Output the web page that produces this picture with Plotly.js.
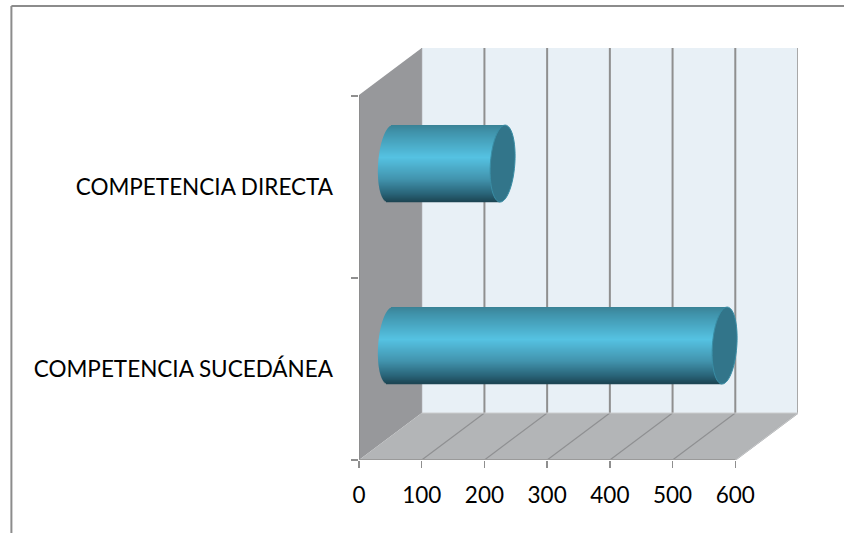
<!DOCTYPE html>
<html>
<head>
<meta charset="utf-8">
<script src="https://cdn.plot.ly/plotly-3.0.1.min.js"></script>
<style>html,body{margin:0;padding:0;background:#fff}#chart{width:844px;height:533px}</style>
</head>
<body>
<div id="chart"></div>
<script>
// Competition by type: a horizontal cylinder chart on a simulated 3D box.
const categories = ['COMPETENCIA SUCEDÁNEA', 'COMPETENCIA DIRECTA'];
const values = [533, 179];
const xTicks = [0, 100, 200, 300, 400, 500, 600];
const categoryEdges = [-0.5, 0.5, 1.5];

// Box depth expressed in axis units
const depthX = 100, depthY = 0.258;
const xMax = 700, yMin = -0.5, yMax = 1.764;
const xFront = xTicks[xTicks.length - 1];
// Cylinder proportions in axis units; skewX leans the round ends with the view
const radiusY = 0.2115, radiusX = 19.5, skewX = 4;

// Vertical shading across a cylinder, from its top edge to its bottom edge
const shadeStops = [
  [0.00, [58, 130, 150]], [0.10, [64, 148, 172]], [0.42, [85, 194, 226]],
  [0.70, [66, 148, 174]], [0.90, [40, 98, 118]], [1.00, [28, 68, 82]]
];
function shade(t) {
  for (let i = 1; i < shadeStops.length; i++) {
    if (t <= shadeStops[i][0]) {
      const [a, ca] = shadeStops[i - 1], [b, cb] = shadeStops[i];
      const f = (t - a) / (b - a);
      return 'rgb(' + ca.map((c, k) => Math.round(c + (cb[k] - c) * f)).join(',') + ')';
    }
  }
  return 'rgb(28,68,82)';
}

// Each cylinder is a stack of thin horizontal bars, so its left end stays round
const bandCount = 77;
const bandH = 2 * radiusY / bandCount;
const barY = [], barBase = [], barLen = [], barColor = [], barWidth = [];
values.forEach((v, i) => {
  const centre = i + depthY / 2;
  for (let b = 0; b < bandCount; b++) {
    const t = (b + 0.5) / bandCount;
    const u = 2 * t - 1;
    const lean = -u * skewX;
    const bulge = radiusX * Math.sqrt(Math.max(0, 1 - u * u));
    const start = depthX / 2 + lean - bulge;
    barY.push(centre + radiusY - (b + 0.5) * bandH);
    barBase.push(start);
    barLen.push(v + depthX / 2 + lean - start);
    barColor.push(shade(t));
    barWidth.push(bandH * 1.3);
  }
});

const line = (x0, y0, x1, y1, color, width) => ({
  type: 'line', xref: 'x', yref: 'y', x0, y0, x1, y1, layer: 'below',
  line: { color, width: width || 1.5 }
});
const poly = (pts, color) => ({
  type: 'path', xref: 'x', yref: 'y', layer: 'below', fillcolor: color,
  line: { width: 0 },
  path: 'M' + pts.map(p => p.join(',')).join('L') + 'Z'
});

const shapes = [
  // back wall, side wall and floor
  poly([[depthX, yMin + depthY], [xMax, yMin + depthY], [xMax, yMax], [depthX, yMax]], '#e8f0f6'),
  poly([[0, yMin], [depthX, yMin + depthY], [depthX, yMax], [0, yMax - depthY]], '#97989b'),
  poly([[0, yMin], [depthX, yMin + depthY], [xMax, yMin + depthY], [xFront, yMin]], '#b3b5b7')
];
// gridlines run up the back wall and across the floor
xTicks.slice(1).forEach(t => {
  shapes.push(line(t + depthX, yMin + depthY, t + depthX, yMax, t === xFront ? '#a8a8a8' : '#8f8f8f', 2));
  shapes.push(line(t, yMin, t + depthX, yMin + depthY, '#8f9092', 1.2));
});
shapes.push(line(xFront, yMin, xFront + depthX, yMin + depthY, '#c4c6c8', 1.2));
shapes.push(line(depthX, yMin + depthY, depthX, yMax, '#9a9a9c', 1));
shapes.push(line(0, yMin, 0, yMax - depthY, '#8a8a8a', 1.5));
shapes.push(line(0, yMin, xFront, yMin, '#9a9a9a', 2));
shapes.push(line(depthX, yMin + depthY, xMax, yMin + depthY, '#c9cbcd', 1));

// Flat end cap of each cylinder, leaning with the view
values.forEach((v, i) => {
  const centre = i + depthY / 2, cx = v + depthX / 2;
  const pts = [];
  for (let a = 0; a < 48; a++) {
    const th = a / 48 * 2 * Math.PI;
    const s = Math.sin(th);
    pts.push([cx + radiusX * Math.cos(th) + s * skewX, centre + s * radiusY]);
  }
  shapes.push({
    type: 'path', xref: 'x', yref: 'y', layer: 'above',
    path: 'M' + pts.map(p => p.join(',')).join('L') + 'Z',
    fillcolor: '#32758a', line: { color: '#3a8ea6', width: 1 }
  });
});

// Outer frame along the top and left of the page
const plotW = 844 - 358.5 - 46, plotH = 533 - 48 - 73;
const frameX = -348 / plotW, frameY = 1 + 42 / plotH;
shapes.push({ type: 'line', xref: 'paper', yref: 'paper', layer: 'below',
  x0: frameX, x1: 1.2, y0: frameY, y1: frameY, line: { color: '#8c8c8c', width: 2 } });
shapes.push({ type: 'line', xref: 'paper', yref: 'paper', layer: 'below',
  x0: frameX, x1: frameX, y0: frameY, y1: -0.3, line: { color: '#8c8c8c', width: 2 } });

const labelFont = { family: 'Lato, sans-serif', size: 22.5, color: '#000' };

Plotly.newPlot('chart', [{
  type: 'bar', orientation: 'h',
  y: barY, x: barLen, base: barBase, width: barWidth,
  marker: { color: barColor, line: { width: 0 } },
  hoverinfo: 'skip', showlegend: false
}], {
  width: 844, height: 533,
  margin: { l: 358.5, r: 46, t: 48, b: 73, pad: 0 },
  paper_bgcolor: '#fff', plot_bgcolor: 'rgba(0,0,0,0)',
  barmode: 'overlay', showlegend: false,
  xaxis: {
    range: [0, xMax], tickvals: xTicks, ticktext: xTicks.map(String),
    ticks: 'outside', ticklen: 7, tickwidth: 1.5, tickcolor: '#8f8f8f',
    ticklabelstandoff: 8,
    showgrid: false, zeroline: false, showline: false,
    tickfont: labelFont, tickangle: 0
  },
  yaxis: {
    range: [yMin, yMax], tickvals: categories.map((_, i) => i), ticktext: categories,
    ticks: '', ticklabelstandoff: 25,
    minor: { tickvals: categoryEdges, ticks: 'outside', ticklen: 7, tickwidth: 1.5, tickcolor: '#8f8f8f', showgrid: false },
    showgrid: false, zeroline: false, showline: false,
    tickfont: labelFont
  },
  shapes
}, { displayModeBar: false, staticPlot: true });
</script>
</body>
</html>
